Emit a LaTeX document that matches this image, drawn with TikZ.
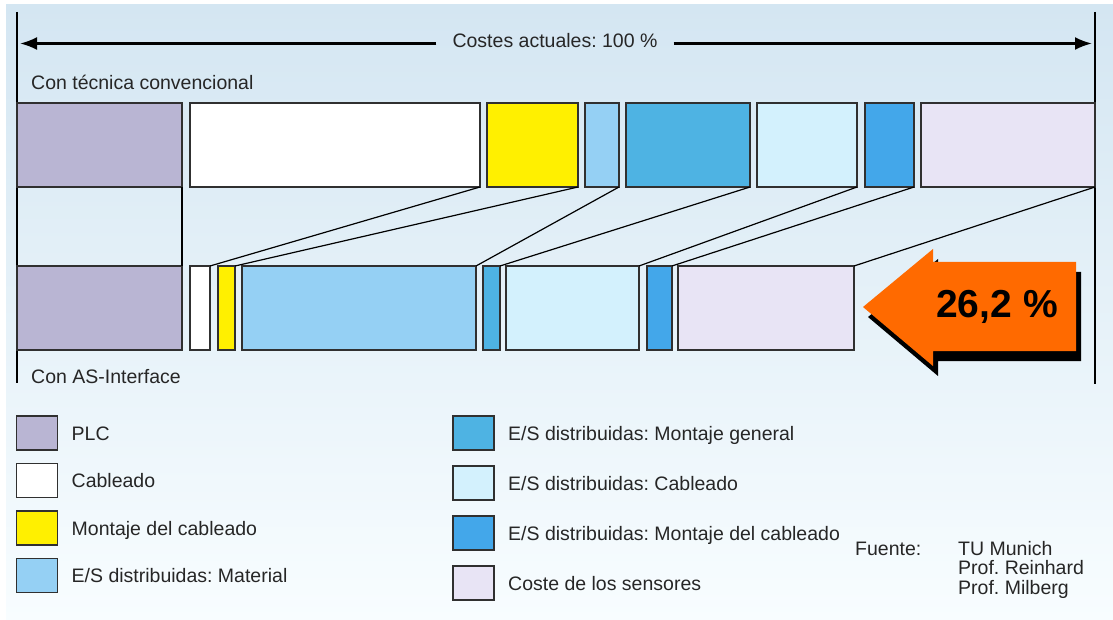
\documentclass[tikz,border=0pt]{standalone}
\usepackage{fontspec}
\setmainfont{Liberation Sans}
\usetikzlibrary{positioning,arrows.meta}
\frenchspacing

\definecolor{plc}{HTML}{B9B5D3}
\definecolor{mcable}{HTML}{FFF000}
\definecolor{iomat}{HTML}{95D0F4}
\definecolor{iomont}{HTML}{4EB3E3}
\definecolor{iocable}{HTML}{D3F1FD}
\definecolor{iomcable}{HTML}{43A7EA}
\definecolor{sensor}{HTML}{E8E4F5}
\definecolor{bgtop}{HTML}{D4E6F2}
\definecolor{bgbot}{HTML}{F8FDFF}
\definecolor{pctorange}{HTML}{FF6A00}
\definecolor{edge}{HTML}{303030}

\tikzset{
  costbar/.style={draw=edge, line width=1.3pt, anchor=north west, minimum height=84pt, inner sep=0pt, outer sep=0pt},
  keybox/.style={draw=edge, line width=1.3pt, minimum width=41pt, minimum height=34pt, inner sep=0pt, outer sep=0pt},
  keytext/.style={inner sep=0pt, text height=14pt, text depth=0pt, text=black!85, font=\fontsize{19.5}{23}\selectfont},
  plain/.style={inner sep=0pt, text=black!85, font=\fontsize{19.5}{23}\selectfont},
}

\begin{document}
\begin{tikzpicture}[x=1pt, y=-1pt]
\useasboundingbox (0,0) rectangle (1113,620);
\fill[white] (0,0) rectangle (1113,620);
\shade[top color=bgtop, bottom color=bgbot] (6,5) rectangle (1113,620);

%Scale
\draw[line width=2.6pt] (17,12) -- (17,383);
\draw[line width=2.6pt] (1095,12) -- (1095,384);
\node[plain, anchor=base, inner xsep=16pt] (costes) at (555,48) {Costes actuales: 100 \%};
\coordinate (lefttip) at (20,43.5);
\coordinate (righttip) at (1092,43.5);
\draw[line width=2.4pt, -{Latex[length=17pt,width=13pt]}] (costes.west |- lefttip) -- (lefttip);
\draw[line width=2.4pt, -{Latex[length=17pt,width=13pt]}] (costes.east |- righttip) -- (righttip);
\node[plain, anchor=base west] (conv) at (31,90) {Con técnica convencional};
\node[plain, anchor=base west] (asi) at (31,383) {Con AS-Interface};

%Top row
\node[costbar, fill=plc, minimum width=165pt] (t1) at (17,103) {};
\node[costbar, fill=white, minimum width=290pt] (t2) at (190,103) {};
\node[costbar, fill=mcable, minimum width=91pt] (t3) at (487,103) {};
\node[costbar, fill=iomat, minimum width=34pt] (t4) at (585,103) {};
\node[costbar, fill=iomont, minimum width=124pt] (t5) at (626,103) {};
\node[costbar, fill=iocable, minimum width=100pt] (t6) at (757,103) {};
\node[costbar, fill=iomcable, minimum width=49pt] (t7) at (865,103) {};
\node[costbar, fill=sensor, minimum width=174pt] (t8) at (921,103) {};

%Bottom row
\node[costbar, fill=plc, minimum width=165pt] (b1) at (17,266) {};
\node[costbar, fill=white, minimum width=20pt] (b2) at (190,266) {};
\node[costbar, fill=mcable, minimum width=17pt] (b3) at (218,266) {};
\node[costbar, fill=iomat, minimum width=234pt] (b4) at (242,266) {};
\node[costbar, fill=iomont, minimum width=17pt] (b5) at (483,266) {};
\node[costbar, fill=iocable, minimum width=133pt] (b6) at (506,266) {};
\node[costbar, fill=iomcable, minimum width=25pt] (b7) at (647,266) {};
\node[costbar, fill=sensor, minimum width=176pt] (b8) at (678,266) {};

%Links
\foreach \i in {1,...,8}
  \draw[line width=1.2pt] (t\i.south east) -- (b\i.north east);

%Saving
\fill[black, shift={(5,10)}] (863,307) -- (933,249) -- (933,262) -- (1076,262) -- (1076,351) -- (933,351) -- (933,366) -- cycle;
\fill[pctorange] (863,307) -- (933,249) -- (933,262) -- (1076,262) -- (1076,351) -- (933,351) -- (933,366) -- cycle;
\node[inner sep=0pt, font=\fontsize{39}{44}\selectfont\bfseries] (pct) at (997,307) {26,2 \%};

%Legend
\node[keybox, fill=plc] (k1) at (37,433) {};
\node[keybox, fill=white] (k2) at (37,480.5) {};
\node[keybox, fill=mcable] (k3) at (37,528) {};
\node[keybox, fill=iomat] (k4) at (37,575.5) {};
\node[keybox, fill=iomont] (k5) at (473.5,433) {};
\node[keybox, fill=iocable] (k6) at (473.5,483) {};
\node[keybox, fill=iomcable] (k7) at (473.5,533) {};
\node[keybox, fill=sensor] (k8) at (473.5,583) {};
\node[keytext, right=14pt of k1] (l1) {PLC};
\node[keytext, right=14pt of k2] (l2) {Cableado};
\node[keytext, right=14pt of k3] (l3) {Montaje del cableado};
\node[keytext, right=14pt of k4] (l4) {E/S distribuidas: Material};
\node[keytext, right=14pt of k5] (l5) {E/S distribuidas: Montaje general};
\node[keytext, right=14pt of k6] (l6) {E/S distribuidas: Cableado};
\node[keytext, right=14pt of k7] (l7) {E/S distribuidas: Montaje del cableado};
\node[keytext, right=14pt of k8] (l8) {Coste de los sensores};

%Source
\node[plain, anchor=base west] (fuente) at (855,555) {Fuente:};
\node[plain, anchor=base west] (src1) at (958,555) {TU Munich};
\node[plain, anchor=base west] (src2) at (958,574.5) {Prof. Reinhard};
\node[plain, anchor=base west] (src3) at (958,594) {Prof. Milberg};
\end{tikzpicture}
\end{document}
